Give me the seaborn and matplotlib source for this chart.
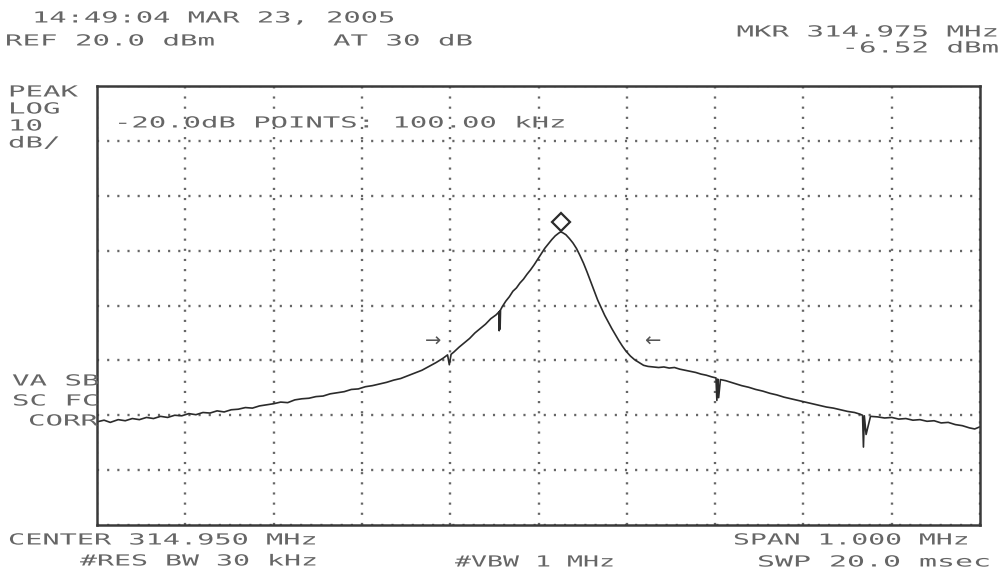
import numpy as np
import pandas as pd
import matplotlib
matplotlib.use("Agg")
import matplotlib.pyplot as plt
import matplotlib.patheffects as pe
from matplotlib.transforms import Affine2D
import seaborn as sns

# ---------------- data ----------------
freq_khz = [-500, -492, -485, -476, -468, -460, -452, -444, -436, -428, -420, -412, -404,
            -396, -388, -380, -372, -364, -356, -348, -340, -332, -324, -316, -308, -300,
            -292, -284, -276, -268, -260, -252, -244, -236, -228, -220, -212, -204, -196,
            -188, -180, -172, -164, -156, -148, -140, -132, -124, -116, -108, -103, -101,
            -99, -96, -90, -84, -78, -72, -66, -60, -54, -48, -45, -44.5, -44, -43.5, -43,
            -41, -37, -33, -29, -25, -21, -17, -13, -9, -5, -1, 3, 7, 11, 15, 19, 23, 25,
            27, 31, 35, 39, 43, 47, 51, 55, 59, 63, 67, 71, 75, 79, 83, 87, 91, 95, 99, 104,
            109, 114, 119, 124, 130, 136, 142, 148, 154, 160, 166, 172, 178, 184, 190, 196,
            201, 202, 203, 204, 206, 212, 218, 224, 230, 238, 246, 254, 262, 270, 278, 286,
            294, 302, 310, 318, 326, 334, 342, 350, 358, 364, 367, 368, 369, 371, 376, 384,
            392, 400, 408, 416, 424, 432, 440, 448, 456, 464, 472, 480, 488, 494, 500]
level_dbm = [-41.2, -40.9, -41.3, -40.8, -41.0, -40.6, -40.8, -40.4, -40.6, -40.2, -40.4,
             -40.0, -40.1, -39.7, -39.9, -39.5, -39.6, -39.2, -39.4, -39.0, -38.9, -38.6,
             -38.7, -38.3, -38.1, -37.9, -37.6, -37.7, -37.2, -37.0, -36.9, -36.6, -36.5,
             -36.1, -35.9, -35.7, -35.3, -35.2, -34.8, -34.6, -34.3, -34.0, -33.6, -33.3,
             -32.8, -32.3, -31.8, -31.1, -30.4, -29.6, -29.0, -30.8, -28.9, -28.5, -27.6,
             -26.8, -26.0, -25.0, -24.2, -23.4, -22.4, -21.7, -21.2, -24.6, -21.0, -24.3,
             -20.8, -20.2, -19.2, -18.4, -17.4, -16.8, -15.9, -15.2, -14.3, -13.5, -12.6,
             -11.6, -10.6, -9.6, -8.8, -8.0, -7.3, -6.8, -6.6, -6.7, -7.1, -7.8, -8.6,
             -9.6, -10.9, -12.3, -13.9, -15.6, -17.3, -19.0, -20.4, -21.8, -23.0, -24.2,
             -25.3, -26.4, -27.4, -28.3, -29.2, -29.9, -30.4, -30.9, -31.1, -31.2, -31.3,
             -31.2, -31.4, -31.3, -31.6, -31.8, -32.0, -32.2, -32.5, -32.7, -33.0, -33.2,
             -37.3, -33.4, -36.8, -33.5, -33.7, -34.0, -34.3, -34.6, -34.9, -35.3, -35.6,
             -36.0, -36.3, -36.7, -37.0, -37.3, -37.6, -37.9, -38.2, -38.5, -38.7, -39.0,
             -39.3, -39.5, -39.8, -40.0, -45.8, -40.1, -43.5, -40.2, -40.3, -40.5, -40.4,
             -40.7, -40.6, -40.9, -40.8, -41.1, -41.0, -41.4, -41.3, -41.7, -41.9, -42.3,
             -42.5, -42.1]

marker_khz = [25]
marker_dbm = [-6.52]
arrow_khz = [-119, 129]
arrow_dbm = [-26.5, -26.5]
arrow_glyphs = ["\u2192", "\u2190"]

x_ticks = [-500, -400, -300, -200, -100, 0, 100, 200, 300, 400, 500]
y_ticks = [20, 10, 0, -10, -20, -30, -40, -50, -60]

header_date = "14:49:04 MAR 23, 2005"
ref_label = "REF 20.0 dBm"
att_label = "AT 30 dB"
mkr_freq_label = "MKR 314.975 MHz"
mkr_level_label = "-6.52 dBm"
left_labels = ["PEAK", "LOG", "10", "dB/"]
corr_labels = ["VA SB", "SC FC", "CORR"]
points_label = "-20.0dB POINTS: 100.00 kHz"
center_label = "CENTER 314.950 MHz"
rbw_label = "#RES BW 30 kHz"
vbw_label = "#VBW 1 MHz"
span_label = "SPAN 1.000 MHz"
swp_label = "SWP 20.0 msec"

# ---------------- figure ----------------
W, H = 1002, 581
sns.set_style("white")
plt.rcParams["font.family"] = ["DejaVu Sans Mono", "DejaVu Sans"]

fig = plt.figure(figsize=(W / 100, H / 100), dpi=100)
fig.patch.set_facecolor("white")

L, R, T, B = 97, 980, 86, 525
ax = fig.add_axes([L / W, 1 - B / H, (R - L) / W, (B - T) / H])

df = pd.DataFrame({"freq": freq_khz, "level": level_dbm})
sns.lineplot(data=df, x="freq", y="level", ax=ax, color="#2b2b2b", linewidth=1.2,
             estimator=None, sort=False)

ax.set_xlim(-500, 500)
ax.set_ylim(-60, 20)
ax.set_xticks(x_ticks)
ax.set_yticks(y_ticks)
ax.tick_params(length=0, labelbottom=False, labelleft=False)
ax.set_xlabel("")
ax.set_ylabel("")
ax.grid(True, color="#666666", linestyle=(0, (0.9, 3.4)), linewidth=1.7)
for s in ax.spines.values():
    s.set_color("#3a3a3a")
    s.set_linewidth(1.8)

# marker diamond sitting on the peak
ax.plot(marker_khz, [marker_dbm[0] + 1.7], marker="D", markersize=9,
        markerfacecolor="white", markeredgecolor="#2b2b2b", markeredgewidth=1.6,
        linestyle="none")
for xk, yd, g in zip(arrow_khz, arrow_dbm, arrow_glyphs):
    ax.text(xk, yd, g, fontsize=14, color="#555555", ha="center", va="center",
            family="DejaVu Sans")


class HStretch(pe.AbstractPathEffect):
    def __init__(self, sx):
        super().__init__()
        self.sx = sx

    def draw_path(self, renderer, gc, tpath, affine, rgbFace=None):
        renderer.draw_path(gc, tpath, Affine2D().scale(self.sx, 1.0) + affine, rgbFace)


FS = 11.0
PITCH = 17.5
adv_px = 0.602 * FS * 100 / 72
TXT = "#666666"


def put(px, py, s, pitch=PITCH, right=None):
    n = len(s)
    if right is not None:
        px = right - n * pitch
    sx = pitch / adv_px
    fig.text(px / W, 1 - py / H, s, fontsize=FS, color=TXT, ha="left", va="center",
             family="DejaVu Sans Mono", path_effects=[HStretch(sx)])


put(32, 18, header_date, pitch=17.3)
put(5, 41, ref_label)
put(333, 41, att_label)
put(0, 32, mkr_freq_label, right=999)
put(0, 48, mkr_level_label, right=999)
for i, lab in enumerate(left_labels):
    put(8, 92 + i * 17, lab)
put(114, 123, points_label, pitch=17.4)
put(12, 381, corr_labels[0])
put(12, 401, corr_labels[1])
put(28, 421, corr_labels[2])
put(8, 540, center_label, pitch=17.2)
put(80, 561, rbw_label, pitch=17.0)
put(455, 562, vbw_label, pitch=16.0)
put(733, 540, span_label, pitch=16.9)
put(757, 562, swp_label, pitch=18.0)

fig.savefig("out.png", dpi=100)
